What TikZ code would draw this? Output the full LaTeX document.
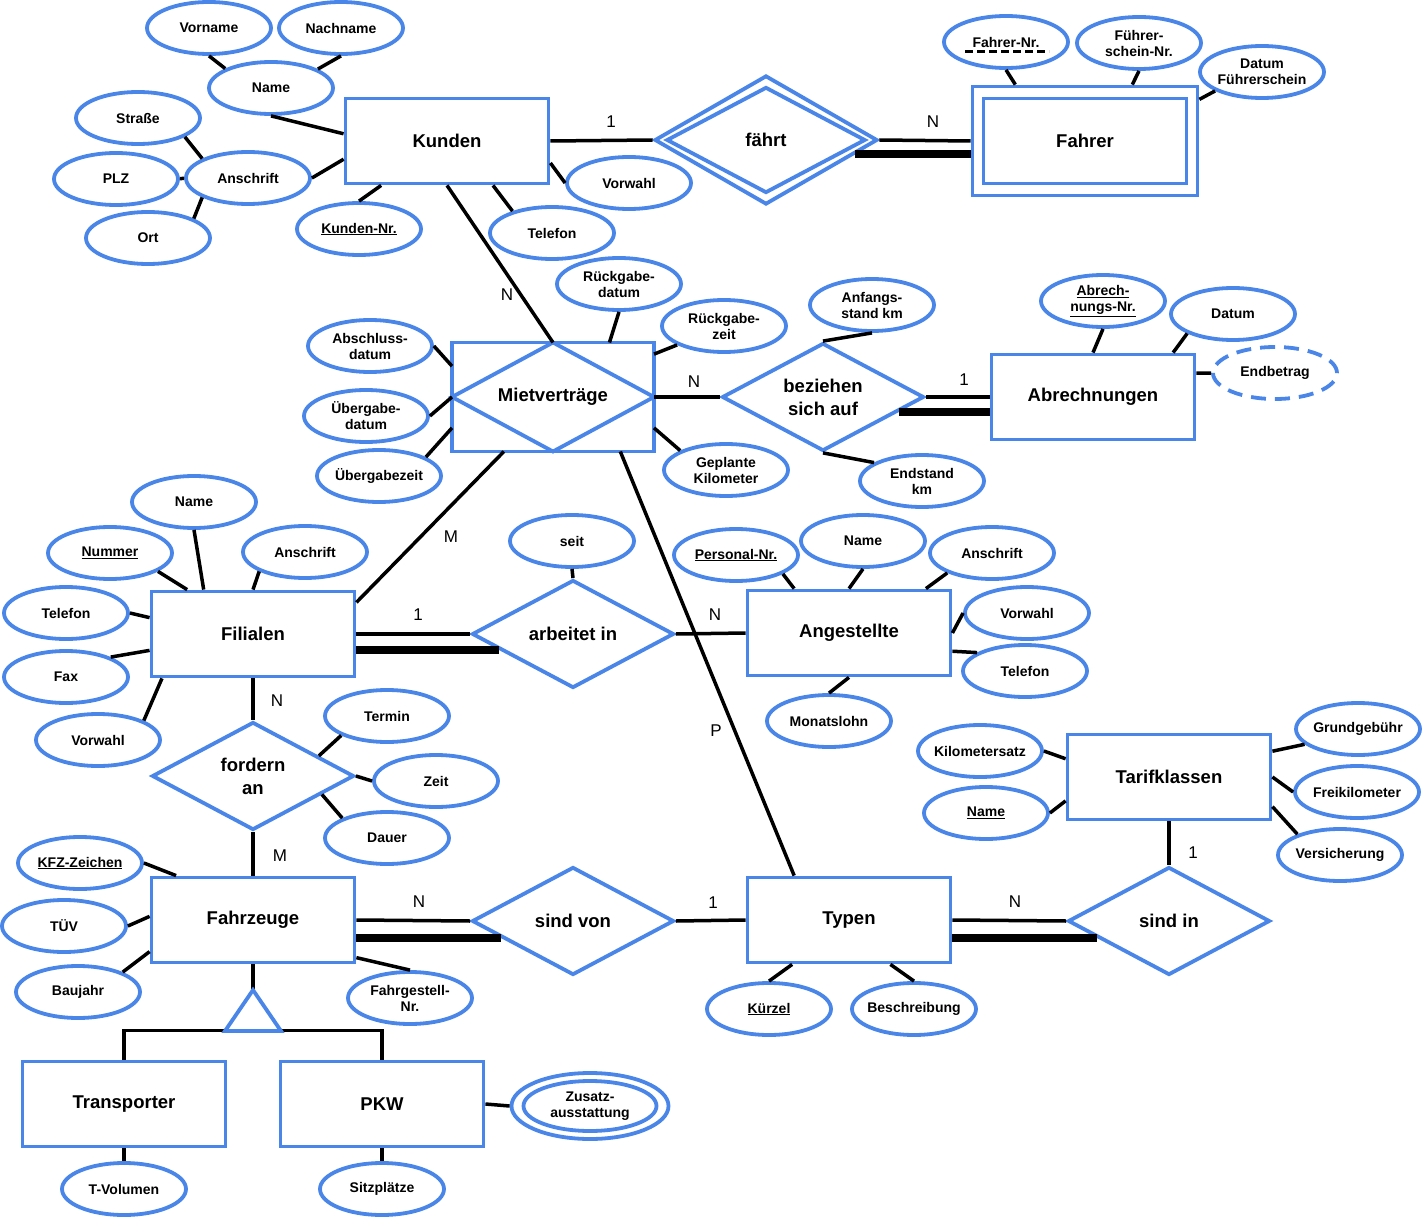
\documentclass[tikz,border=0pt]{standalone}
\usepackage{fontspec}
\setmainfont{Liberation Sans}
\usetikzlibrary{shapes.geometric}
\definecolor{erblue}{HTML}{4A86E8}

\begin{document}
\begin{tikzpicture}[x=1pt,y=-1pt,
  entity/.style={draw=erblue,line width=3.8pt,rectangle,minimum width=203pt,minimum height=85pt,inner sep=0pt,fill=white,font=\bfseries\fontsize{18.5}{23}\selectfont},
  rel/.style={draw=erblue,line width=3.8pt,diamond,aspect=2,minimum width=202pt,minimum height=108pt,inner sep=0pt,fill=white,align=center,font=\bfseries\fontsize{18.5}{23}\selectfont},
  attr/.style={draw=erblue,line width=3.8pt,ellipse,minimum width=124pt,minimum height=52pt,inner xsep=-6pt,inner ysep=0pt,fill=white,align=center,font=\bfseries\fontsize{14}{16}\selectfont},
  card/.style={inner sep=0pt,font=\fontsize{17}{20}\selectfont},
  conn/.style={line width=3.5pt},
  total/.style={line width=8pt}]
\useasboundingbox (0,0) rectangle (1425,1217);

\node[entity] (kunden) at (447,141) {Kunden};
\node[attr] (kvor) at (209,28) {Vorname};
\node[attr] (knach) at (341,28) {Nachname};
\node[attr] (kname) at (271,88) {Name};
\node[attr] (kstr) at (138,118) {Straße};
\node[attr] (kplz) at (116,179) {PLZ};
\node[attr] (kans) at (248,178) {Anschrift};
\node[attr] (kort) at (148,238) {Ort};
\node[attr] (knr) at (359,229) {\underline{Kunden-Nr.}};
\node[attr] (kvw) at (629,183) {Vorwahl};
\node[attr] (ktel) at (552,233) {Telefon};

\node[rel,minimum width=223pt,minimum height=129pt] (fahrt) at (766,140) {fährt};
\node[rel,minimum width=199pt,minimum height=106pt,fill=none] (fahrtin) at (fahrt) {};
\node[entity,minimum width=225pt,minimum height=109pt] (fahrer) at (1085,141) {Fahrer};
\node[entity,fill=none] (fahrerin) at (fahrer) {};
\node[attr] (fanr) at (1006,42) {Fahrer-Nr.};
\node[attr] (fsnr) at (1139,43) {Führer-\\schein-Nr.};
\node[attr] (fdat) at (1262,72) {Datum\\Führerschein};

\node[entity,outer sep=0pt,minimum width=202pt,minimum height=109pt] (mv) at (553,397) {Mietverträge};
\node[attr] (rdat) at (619,284) {Rückgabe-\\datum};
\node[attr] (rzeit) at (724,326) {Rückgabe-\\zeit};
\node[attr] (adat) at (370,346) {Abschluss-\\datum};
\node[attr] (udat) at (366,416) {Übergabe-\\datum};
\node[attr] (uzeit) at (379,476) {Übergabezeit};
\node[attr] (gkm) at (726,470) {Geplante\\Kilometer};

\node[rel] (bez) at (823,397) {beziehen\\sich auf};
\node[attr] (akm) at (872,305) {Anfangs-\\stand km};
\node[attr] (ekm) at (922,481) {Endstand\\km};
\node[entity] (abr) at (1093,397) {Abrechnungen};
\node[attr] (abnr) at (1103,301) {\underline{Abrech-}\\\underline{nungs-Nr.}};
\node[attr] (adatum) at (1233,314) {Datum};
\node[attr,dash pattern=on 15pt off 9pt] (endb) at (1275,373) {Endbetrag};

\node[entity] (fil) at (253,634) {Filialen};
\node[attr] (fname) at (194,502) {Name};
\node[attr] (fnum) at (110,553) {\underline{Nummer}};
\node[attr] (fans) at (305,552) {Anschrift};
\node[attr] (ftel) at (66,613) {Telefon};
\node[attr] (ffax) at (66,677) {Fax};
\node[attr] (fvw) at (98,740) {Vorwahl};

\node[rel] (arb) at (573,634) {arbeitet in};
\node[attr] (seit) at (572,541) {seit};
\node[entity] (ang) at (849,633) {Angestellte};
\node[attr] (pnr) at (736,555) {\underline{Personal-Nr.}};
\node[attr] (aname) at (863,541) {Name};
\node[attr] (aans) at (992,553) {Anschrift};
\node[attr] (avw) at (1027,613) {Vorwahl};
\node[attr] (atel) at (1025,671) {Telefon};
\node[attr] (mlohn) at (829,721) {Monatslohn};

\node[rel] (ford) at (253,776) {fordern\\an};
\node[attr] (termin) at (387,716) {Termin};
\node[attr] (zeit) at (436,781) {Zeit};
\node[attr] (dauer) at (387,838) {Dauer};

\node[entity] (fz) at (253,920) {Fahrzeuge};
\node[attr] (kfz) at (80,863) {\underline{KFZ-Zeichen}};
\node[attr] (tuev) at (64,926) {TÜV};
\node[attr] (bauj) at (78,992) {Baujahr};
\node[attr] (fgnr) at (410,998) {Fahrgestell-\\Nr.};

\node[rel] (sv) at (573,921) {sind von};
\node[entity] (typ) at (849,920) {Typen};
\node[attr] (kuerzel) at (769,1009) {\underline{Kürzel}};
\node[attr] (beschr) at (914,1009) {Beschreibung};
\node[rel] (si) at (1169,921) {sind in};

\node[entity] (tk) at (1169,777) {Tarifklassen};
\node[attr] (kmsatz) at (980,751) {Kilometersatz};
\node[attr] (tname) at (986,813) {\underline{Name}};
\node[attr] (grund) at (1358,729) {Grundgebühr};
\node[attr] (freikm) at (1357,792) {Freikilometer};
\node[attr] (vers) at (1340,855) {Versicherung};

\node[entity] (trans) at (124,1104) {Transporter};
\node[entity] (pkw) at (382,1104) {PKW};
\node[attr] (tvol) at (124,1189) {T-Volumen};
\node[attr] (sitz) at (382,1189) {Sitzplätze};
\node[attr,minimum width=157pt,minimum height=66pt] (zus) at (590,1106) {};
\node[attr,minimum width=133pt,minimum height=50pt,fill=none] (zusin) at (zus) {Zusatz-\\ausstattung};
\coordinate (isa) at (253,990);

\draw[erblue,line width=3.8pt] (mv.north) -- (mv.east) -- (mv.south) -- (mv.west) -- cycle;
\draw[line width=3pt,dash pattern=on 8pt off 4pt] ([shift={(-41,10)}]fanr.center) -- ([shift={(43,10)}]fanr.center);

\draw[conn] (kvor.south) -- (kname.157);
\draw[conn] (knach.south) -- (kname.22);
\draw[conn] (kname.south) -- (kunden.176);
\draw[conn] (kstr.-22) -- (kans.157);
\draw[conn] (kplz) -- (kans);
\draw[conn] (kort.23) -- (kans.203);
\draw[conn] (kans.east) -- (kunden.190);
\draw[conn] (knr.north) -- (kunden.214);
\draw[conn] (kvw.west) -- (kunden.-12);
\draw[conn] (ktel.151) -- (kunden.-44);
\draw[conn] (kunden.east) -- (fahrt.west);
\draw[conn] (fahrt.east) -- (fahrer.west);
\draw[total] (fahrt.-9) -- (fahrt.-9 -| fahrer.west);
\draw[conn] (fanr.south) -- (fahrer.141);
\draw[conn] (fsnr.south) -- (fahrer.50);
\draw[conn] (fdat.202) -- (fahrer.20);

\draw[conn] (kunden.south) -- (mv.north);
\draw[conn] (rdat.south) -- (mv.44);
\draw[conn] (rzeit.202) -- (mv.23);
\draw[conn] (adat.east) -- (mv.163);
\draw[conn] (udat.east) -- (mv.west);
\draw[conn] (uzeit.22) -- (mv.197);
\draw[conn] (gkm.157) -- (mv.-17);
\draw[conn] (mv.east) -- (bez.west);
\draw[conn] (mv.228) -- (fil.17);
\draw[conn] (mv.-39) -- (typ.141);

\draw[conn] (akm.south) -- (bez.north);
\draw[conn] (bez.south) -- (ekm.159);
\draw[conn] (bez.east) -- (abr.west);
\draw[total] (bez.-11) -- (bez.-11 -| abr.west);
\draw[conn] (abnr.south) -- (abr.north);
\draw[conn] (adatum.203) -- (abr.29);
\draw[conn] (endb.west) -- (abr.13);

\draw[conn] (fname.south) -- (fil.138);
\draw[conn] (fnum.-21) -- (fil.146);
\draw[conn] (fans.203) -- (fil.north);
\draw[conn] (ftel.east) -- (fil.171);
\draw[conn] (ffax.24) -- (fil.189);
\draw[conn] (fvw.23) -- (fil.206);
\draw[conn] (fil.east) -- (arb.west);
\draw[total] (arb.192 -| fil.east) -- (arb.192);
\draw[conn] (fil.south) -- (ford.north);

\draw[conn] (seit.south) -- (arb.north);
\draw[conn] (arb.east) -- (ang.west);
\draw[conn] (pnr.-22) -- (ang.141);
\draw[conn] (aname.south) -- (ang.north);
\draw[conn] (aans.204) -- (ang.30);
\draw[conn] (avw.west) -- (ang.east);
\draw[conn] (atel.159) -- (ang.-10);
\draw[conn] (mlohn.north) -- (ang.south);

\draw[conn] (termin.203) -- (ford.17);
\draw[conn] (zeit.west) -- (ford.east);
\draw[conn] (dauer.156) -- (ford.-15);
\draw[conn] (ford.south) -- (fz.north);

\draw[conn] (kfz.east) -- (fz.150);
\draw[conn] (tuev.east) -- (fz.178);
\draw[conn] (bauj.24) -- (fz.197);
\draw[conn] (fgnr.north) -- (fz.-20);
\draw[conn] (fz.east) -- (sv.west);
\draw[total] (sv.193 -| fz.east) -- (sv.193);
\draw[conn] (fz.south) -- (isa);

\draw[conn] (sv.east) -- (typ.west);
\draw[conn] (kuerzel.north) -- (typ.218);
\draw[conn] (beschr.north) -- (typ.-47);
\draw[conn] (typ.east) -- (si.west);
\draw[total] (si.193 -| typ.east) -- (si.193);
\draw[conn] (si.north) -- (tk.south);

\draw[conn] (kmsatz.east) -- (tk.170);
\draw[conn] (tname.east) -- (tk.193);
\draw[conn] (grund.196) -- (tk.14);
\draw[conn] (freikm.west) -- (tk.east);
\draw[conn] (vers.154) -- (tk.-16);

\draw[conn] (trans.north) -- ++(0,-29) -| (pkw.north);
\draw[erblue,line width=3.8pt,fill=white] (isa) -- ++(28,41) -- ++(-56,0) -- cycle;
\draw[conn] (trans.south) -- (tvol.north);
\draw[conn] (pkw.south) -- (sitz.north);
\draw[conn] (pkw.east) -- (zus.west);

\node[card] (c1) at (611,122) {1};
\node[card] (c2) at (933,122) {N};
\node[card] (c3) at (507,295) {N};
\node[card] (c4) at (694,382) {N};
\node[card] (c5) at (964,380) {1};
\node[card] (c6) at (451,537) {M};
\node[card] (c7) at (716,731) {P};
\node[card] (c8) at (418,615) {1};
\node[card] (c9) at (715,615) {N};
\node[card] (c10) at (277,701) {N};
\node[card] (c11) at (280,856) {M};
\node[card] (c12) at (419,902) {N};
\node[card] (c13) at (713,903) {1};
\node[card] (c14) at (1015,902) {N};
\node[card] (c15) at (1193,853) {1};
\end{tikzpicture}
\end{document}
